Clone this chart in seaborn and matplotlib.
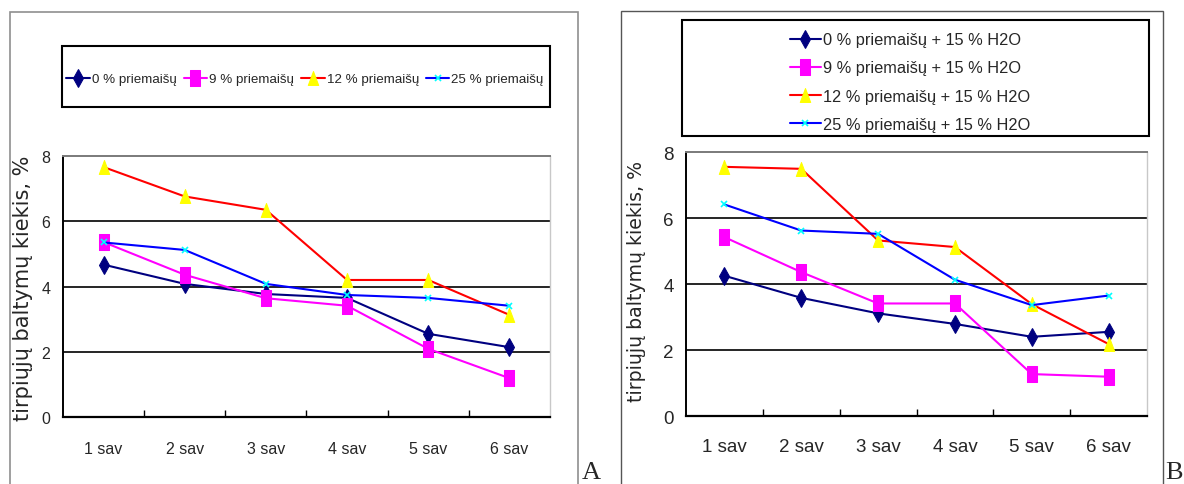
import matplotlib
matplotlib.use("Agg")
import matplotlib.pyplot as plt
from matplotlib.patches import Rectangle
from matplotlib.ticker import FixedLocator
import seaborn as sns
import pandas as pd

# ---- data -------------------------------------------------------------
weeks = ["1 sav", "2 sav", "3 sav", "4 sav", "5 sav", "6 sav"]

labels_a = ["0 % priemaišų", "9 % priemaišų", "12 % priemaišų", "25 % priemaišų"]
a_0 = [4.67, 4.08, 3.77, 3.65, 2.55, 2.14]
a_9 = [5.36, 4.36, 3.64, 3.41, 2.09, 1.19]
a_12 = [7.66, 6.76, 6.35, 4.20, 4.20, 3.13]
a_25 = [5.35, 5.12, 4.08, 3.74, 3.65, 3.41]

labels_b = ["0 % priemaišų + 15 % H2O", "9 % priemaišų + 15 % H2O",
            "12 % priemaišų + 15 % H2O", "25 % priemaišų + 15 % H2O"]
b_0 = [4.25, 3.58, 3.11, 2.79, 2.40, 2.55]
b_9 = [5.42, 4.36, 3.41, 3.41, 1.27, 1.19]
b_12 = [7.55, 7.49, 5.32, 5.12, 3.39, 2.18]
b_25 = [6.41, 5.62, 5.52, 4.13, 3.36, 3.65]

y_ticks = [0, 2, 4, 6, 8]
y_label = "tirpiųjų baltymų kiekis, %"
panel_letters = ["A", "B"]

# ---- styling ----------------------------------------------------------
sns.set_style("white")
plt.rcParams["font.family"] = ["Liberation Sans", "DejaVu Sans"]

W, H = 1184, 485


def fx(px):
    return px / W


def fy(py):
    return 1 - py / H


tall_square = [(-0.62, -1), (0.62, -1), (0.62, 1), (-0.62, 1), (-0.62, -1)]
slim_triangle = [(0, 1), (-0.75, -1), (0.75, -1), (0, 1)]

styles = [
    dict(color="#000080", marker="d", markerfacecolor="#000080",
         markeredgecolor="#000080", markersize=9),
    dict(color="#FF00FF", marker=tall_square, markerfacecolor="#FF00FF",
         markeredgecolor="#FF00FF", markersize=11),
    dict(color="#FF0000", marker=slim_triangle, markerfacecolor="#FFFF00",
         markeredgecolor="#FFFF00", markersize=10),
    dict(color="#0000FF", marker="x", markerfacecolor="#00FFFF",
         markeredgecolor="#00FFFF", markersize=5, markeredgewidth=1.2),
]


def draw_panel(ax, series, labels, tick_size, xpad):
    frames = []
    for vals, lab in zip(series, labels):
        frames.append(pd.DataFrame({"week": weeks, "value": vals, "series": lab}))
    df = pd.concat(frames, ignore_index=True)
    for lab, st in zip(labels, styles):
        sns.lineplot(data=df[df["series"] == lab], x="week", y="value",
                     sort=False, errorbar=None, legend=False, ax=ax,
                     linewidth=1.5, label=lab, **st)
    ax.set_xlim(-0.5, 5.5)
    ax.set_ylim(0, 8)
    ax.set_yticks(y_ticks)
    ax.set_xlabel("")
    ax.set_ylabel("")
    for y in y_ticks[1:-1]:
        ax.axhline(y, color="black", lw=1.2, zorder=0)
    ax.spines["left"].set_color("black")
    ax.spines["left"].set_linewidth(1.4)
    ax.spines["bottom"].set_color("black")
    ax.spines["bottom"].set_linewidth(1.6)
    ax.spines["top"].set_color("#7a7a7a")
    ax.spines["top"].set_linewidth(1.4)
    ax.spines["right"].set_color("#c8c8c8")
    ax.spines["right"].set_linewidth(1.0)
    ax.xaxis.set_minor_locator(FixedLocator([0.5, 1.5, 2.5, 3.5, 4.5]))
    ax.tick_params(axis="x", which="minor", direction="in", length=5,
                   width=1, color="black", bottom=True)
    ax.tick_params(axis="x", which="major", length=0, pad=xpad,
                   labelsize=tick_size)
    ax.tick_params(axis="y", length=0, pad=9, labelsize=tick_size)
    return ax.get_legend_handles_labels()


fig = plt.figure(figsize=(W / 100, H / 100), dpi=100)

ax_a = fig.add_axes([fx(63), fy(418), fx(550) - fx(63), (418 - 157) / H])
ax_b = fig.add_axes([fx(686), fy(417), fx(1147) - fx(686), (417 - 153) / H])

h_a, l_a = draw_panel(ax_a, [a_0, a_9, a_12, a_25], labels_a, 11.5, 17)
h_b, l_b = draw_panel(ax_b, [b_0, b_9, b_12, b_25], labels_b, 13.5, 16)

# outer panel frames (open at the bottom edge of the canvas)
fig.patches.append(Rectangle((fx(10), fy(700)), fx(578) - fx(10), fy(13) - fy(700),
                             transform=fig.transFigure, fill=False,
                             ec="#8f8f8f", lw=1.2))
fig.patches.append(Rectangle((fx(621), fy(700)), fx(1163) - fx(621), fy(12) - fy(700),
                             transform=fig.transFigure, fill=False,
                             ec="#555555", lw=1.0))

# legend boxes
fig.patches.append(Rectangle((fx(62), fy(108)), fx(550) - fx(62), fy(47) - fy(108),
                             transform=fig.transFigure, fill=False,
                             ec="black", lw=1.5))
fig.patches.append(Rectangle((fx(682), fy(137)), fx(1149) - fx(682), fy(21) - fy(137),
                             transform=fig.transFigure, fill=False,
                             ec="black", lw=1.5))

fig.legend(h_a, l_a, loc="center", bbox_to_anchor=(fx(305), fy(80)),
           bbox_transform=fig.transFigure, frameon=False, ncol=4,
           fontsize=9.6, handlelength=1.75, handletextpad=0.15,
           columnspacing=0.55, borderpad=0, numpoints=1)
fig.legend(h_b, l_b, loc="center", bbox_to_anchor=(fx(910), fy(83)),
           bbox_transform=fig.transFigure, frameon=False, ncol=1,
           fontsize=11.8, handlelength=1.9, handletextpad=0.15,
           labelspacing=0.8, borderpad=0, numpoints=1)

# y-axis titles
fig.text(fx(23), fy(288), y_label, rotation=90, ha="center", va="center",
         fontsize=15, family="DejaVu Sans")
fig.text(fx(637), fy(282), y_label, rotation=90, ha="center", va="center",
         fontsize=13.6, family="DejaVu Sans")

# panel letters
fig.text(fx(582), fy(484), panel_letters[0], ha="left", va="bottom",
         fontsize=19, family="Liberation Serif")
fig.text(fx(1165), fy(484), panel_letters[1], ha="left", va="bottom",
         fontsize=19, family="Liberation Serif")

fig.savefig("out.png", dpi=100)
